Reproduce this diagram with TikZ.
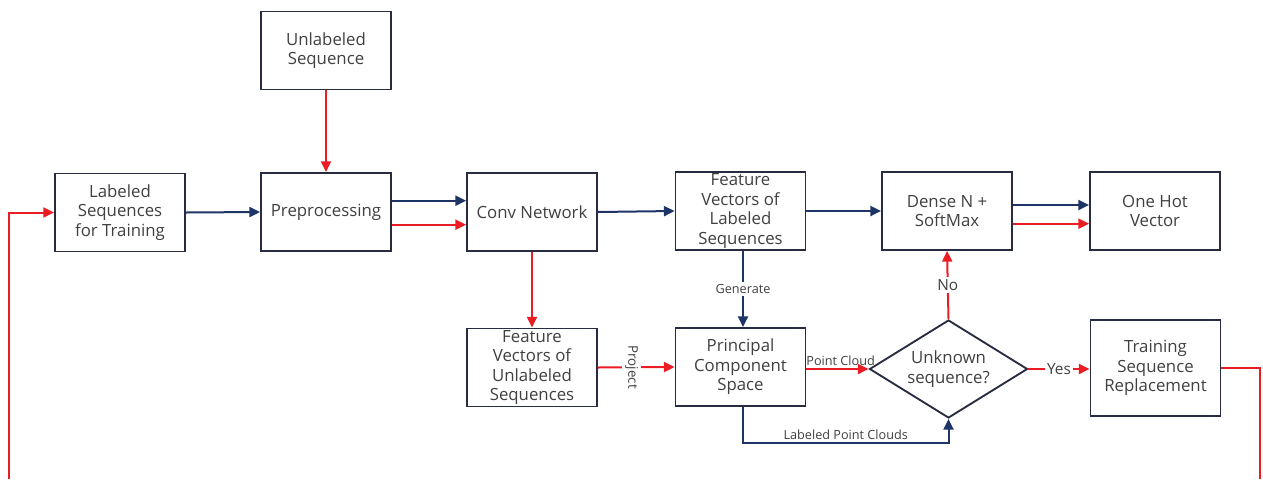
\documentclass[tikz,border=0pt]{standalone}
\usepackage{fontspec}
\setmainfont{Open Sans}
\usetikzlibrary{arrows.meta,shapes.geometric}
\definecolor{navyc}{RGB}{31,52,102}
\definecolor{redc}{RGB}{236,28,36}
\definecolor{boxc}{RGB}{40,44,66}
\definecolor{txtc}{RGB}{64,64,64}
\begin{document}
\begin{tikzpicture}[x=0.75pt,y=-0.75pt,
  box/.style={draw=boxc,line width=1.4pt,fill=white,minimum width=97.5pt,minimum height=58.5pt,inner sep=0pt,align=center,text=txtc,font=\fontsize{12.6}{14.6}\selectfont},
  decision/.style={draw=boxc,line width=1.4pt,fill=white,shape=diamond,aspect=1.6,minimum width=118.5pt,minimum height=73.5pt,inner sep=0pt,align=center,text=txtc,font=\fontsize{12.6}{15.5}\selectfont},
  navyarr/.style={draw=navyc,line width=1.5pt,-{Triangle[length=8pt,width=7.5pt]}},
  redarr/.style={draw=redc,line width=1.5pt,-{Triangle[length=8pt,width=7.5pt]}},
  redline/.style={draw=redc,line width=1.5pt},
  lbl/.style={text=txtc,font=\fontsize{9.5}{11}\selectfont,inner sep=1.5pt}
]
\useasboundingbox (0,0) rectangle (1263,479);

\node[box] (us) at (326,50.5) {Unlabeled\\Sequence};
\node[box] (ls) at (120,212.5) {Labeled\\Sequences\\for Training};
\node[box] (pre) at (326,212) {Preprocessing};
\node[box] (conv) at (532,212) {Conv Network};
\node[box] (fvl) at (740.5,211) {Feature\\Vectors of\\Labeled\\Sequences};
\node[box] (dense) at (947,211) {Dense N +\\SoftMax};
\node[box] (oh) at (1155,211) {One Hot\\Vector};
\node[box] (fvu) at (532,367.5) {Feature\\Vectors of\\Unlabeled\\Sequences};
\node[box] (pcs) at (740.5,367) {Principal\\Component\\Space};
\node[decision] (dia) at (948.5,369) {Unknown\\sequence?};
\node[box,minimum height=72pt] (tsr) at (1155.5,368) {Training\\Sequence\\Replacement};

\coordinate (lpc) at (743,443);
\coordinate (r1) at (1260,479);
\coordinate (l1) at (9,479);

\draw[redarr] (us.south) -- (pre.north);
\draw[navyarr] (ls.east) -- (pre.west);
\draw[navyarr] ([yshift=8.5pt]pre.east) -- ([yshift=8.5pt]conv.west);
\draw[redarr] ([yshift=-9.5pt]pre.east) -- ([yshift=-9.5pt]conv.west);
\draw[navyarr] (conv.east) -- (fvl.west);
\draw[navyarr] (fvl.east) -- (dense.west);
\draw[navyarr] ([yshift=4.5pt]dense.east) -- ([yshift=4.5pt]oh.west);
\draw[redarr] ([yshift=-9.5pt]dense.east) -- ([yshift=-9.5pt]oh.west);
\draw[redarr] (conv.south) -- (fvu.north);
\draw[redarr] (fvu.east) -- node[lbl,fill=white,rotate=-90,pos=0.44,inner sep=2.5pt,font=\fontsize{10}{12}\selectfont]{Project} (pcs.west);
\draw[navyarr] (fvl.south -| lpc) -- node[lbl,fill=white]{Generate} (pcs.north -| lpc);
\draw[redarr] (pcs.east |- dia.west) -- node[lbl,above,pos=0.55]{Point Cloud} (dia.west);
\draw[navyarr] (pcs.south -| lpc) -- (lpc) -- node[lbl,above,pos=0.5]{Labeled Point Clouds} (lpc -| dia.south) -- (dia.south);
\draw[redarr] (dia.north) -- node[lbl,fill=white,font=\fontsize{11.5}{13}\selectfont]{No} (dense.south);
\draw[redarr] (dia.east) -- node[lbl,fill=white,font=\fontsize{11.5}{13}\selectfont]{Yes} (dia.east -| tsr.west);
\draw[redline] (tsr.east) -| (r1);
\draw[redarr] (l1) |- (ls.west);
\end{tikzpicture}
\end{document}
